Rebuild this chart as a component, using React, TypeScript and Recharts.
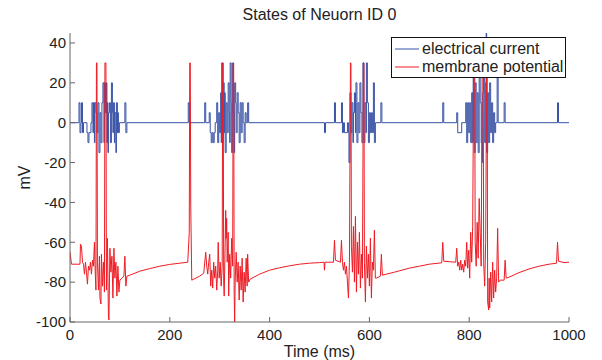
import { LineChart, Line, XAxis, YAxis, Legend } from "recharts";

const FONT = "'Liberation Sans', Arial, Helvetica, sans-serif";
const BLUE = "#3852a6";
const RED = "#ee1c24";

const TITLE = "States of Neuorn ID 0";
const X_TICKS = [0, 200, 400, 600, 800, 1000];
const Y_TICKS = [-100, -80, -60, -40, -20, 0, 20, 40];

// electrical current: [time ms, value] — value holds until the next time
const currentSteps: [number, number][] = [
  [0, 0], [18, 10], [20, -5], [22, 0], [23, 10], [25, -5], [27, 0],
  [34, -5], [36, -10], [38, -5], [42, 0], [44, 10], [46, -5], [47, 10], [49, -10],
  [50, 10], [52, 5], [54, -5], [56, 10], [58, -15], [60, 5], [62, -10], [64, 10],
  [66, 20], [68, -10], [69, 20], [71, 5], [73, 20], [74, -10], [75, 10], [76, -15],
  [77, 5], [79, 10], [81, -10], [83, 20], [85, 5], [86, -5], [87, 10], [89, -10],
  [90, 5], [92, -15], [93, 10], [95, -5], [96, 5], [97, -5], [99, 0],
  [110, 10], [112, -5], [114, 0],
  [237, 10], [239, 0],
  [270, 10], [272, 0], [279, 5], [281, -5], [283, -10], [285, -5], [287, -10],
  [289, -5], [291, 0], [294, 10], [296, -10], [298, 5], [300, -5], [302, 15],
  [303, -10], [304, 30], [306, -10], [307, 20], [309, -5], [310, 15], [311, -15],
  [313, 10], [315, -5], [317, 20], [319, 5], [320, -10], [321, 30], [323, 10],
  [324, -15], [326, 30], [327, 5], [329, -15], [330, 20], [332, 10], [333, -5],
  [335, 15], [337, 5], [339, -10], [341, 10], [343, -5], [345, 10], [347, 0],
  [349, -10], [351, 5], [353, 0], [356, 10], [358, 0],
  [510, -5], [512, 0], [530, 10], [532, 0], [544, 10], [546, -5], [548, 0],
  [550, -5], [556, 0], [558, -5], [559, -20], [561, 15], [563, -5], [565, 10],
  [567, -10], [568, 5], [570, 15], [572, -5], [573, 20], [575, -10], [577, 10],
  [579, -5], [581, 20], [583, 5], [585, -10], [587, 30], [589, -10], [591, 10],
  [593, -5], [594, 30], [596, 10], [598, -10], [600, 5], [602, -5], [604, 5],
  [606, -5], [608, 20], [610, -10], [612, 0], [623, 10], [625, 0],
  [747, 10], [749, 0], [775, 5], [777, -5], [785, 0], [793, 10], [795, -10],
  [797, 10], [799, -5], [801, 10], [803, -10], [805, 15], [807, -10], [808, 25],
  [810, -15], [812, 20], [814, -10], [816, 15], [818, -15], [820, 25], [822, 10],
  [824, -10], [826, -20], [827, 15], [829, 30], [831, -10], [833, 20], [834, 50],
  [835, -15], [837, 15], [839, -10], [841, 20], [843, -5], [845, 10], [847, -10],
  [849, 5], [851, -5], [853, 0], [856, 25], [858, 0], [870, 10], [872, 0],
  [977, 10], [979, 0], [1000, 0],
];

// membrane potential: [time ms, mV]
const potentialPoints: [number, number][] = [
  [0, -65], [3, -71], [20, -71], [21, -61], [23, -62], [25, -70], [27, -71],
  [29, -76], [31, -70], [33, -75], [35, -81], [37, -72], [39, -74], [41, -70],
  [43, -76], [45, -69], [47, -72], [49, -60], [50, -71], [52, -84], [53, 30],
  [54, 30], [55, -70], [57, -84], [59, -67], [60, -88], [62, -91], [63, -66],
  [65, -82], [67, -70], [69, -85], [70, 30], [72, 30], [73, -84], [75, -58],
  [77, -97], [78, -99], [80, -63], [82, -75], [84, -67], [86, -88], [88, -63],
  [90, -78], [92, -70], [94, -87], [96, -72], [98, -85], [100, -79], [104, -78],
  [108, -77], [110, -67], [112, -82], [114, -77], [120, -76.5], [140, -74.5],
  [160, -73.2], [180, -72], [200, -71.1], [220, -70.5], [236, -70],
  [239, -55], [240, 30], [241, 30], [242, -42], [244, -79], [260, -77],
  [268, -75.5], [272, -65], [274, -72], [276, -76], [278, -70], [280, -66],
  [282, -82], [284, -74], [286, -83], [288, -70], [290, -78], [292, -72],
  [294, -84], [296, -74], [297, -60], [299, -78], [301, -70], [303, -82],
  [305, -72], [306, 30], [307, 30], [308, -80], [309, -87], [311, -60],
  [312, -44], [313, -58], [314, -48], [315, -70], [317, -55], [318, -87],
  [320, -66], [322, -78], [324, -58], [326, -72], [327, 30], [328, 30],
  [329, -85], [330, -100], [331, -80], [333, -65], [335, -80], [337, -70],
  [339, -89], [341, -72], [343, -84], [345, -68], [347, -90], [349, -75],
  [351, -85], [353, -68], [355, -82], [356, -66], [358, -80], [361, -78.5],
  [380, -76], [400, -74], [420, -72.8], [440, -71.8], [460, -71], [480, -70.5],
  [500, -70.2], [509, -70], [510, -74], [511, -70], [528, -70], [530, -59],
  [532, -69], [542, -70], [544, -59], [546, -70], [548, -74], [550, -70],
  [552, -76], [554, -72], [556, -80], [558, -88], [560, -70], [562, 30],
  [563, 30], [564, -62], [566, -75], [568, -52], [570, -80], [572, -47],
  [574, -85], [576, -60], [578, -76], [580, -55], [582, -83], [584, -66],
  [586, -78], [588, 30], [589, 30], [590, -70], [592, -90], [594, -62],
  [596, -78], [598, -66], [600, -82], [602, -58], [604, -88], [606, -70],
  [608, -74], [610, -54], [612, -78], [614, -78], [622, -77], [624, -66],
  [626, -76.5], [650, -75], [680, -73], [700, -72], [720, -71], [745, -70.3],
  [747, -60], [749, -69.5], [773, -70], [775, -63], [777, -72], [779, -70],
  [781, -74], [783, -69], [785, -74], [787, -71], [789, -75], [791, -69],
  [793, -72], [795, -60], [797, -73], [799, -64], [801, -78], [803, -55],
  [805, -70], [807, -52], [809, 30], [811, 30], [812, -60], [814, -72],
  [816, -50], [818, -68], [820, -38], [822, -55], [824, -72], [826, 30],
  [828, 30], [829, -70], [831, -82], [833, -60], [835, 30], [836, 30],
  [837, -90], [839, -94], [840, -78], [841, -93], [843, -75], [845, -90],
  [847, -70], [849, -88], [851, -74], [853, -85], [855, -78], [857, -53],
  [859, -80], [862, -79], [870, -79], [872, -69], [874, -78], [880, -77.5],
  [900, -75.2], [920, -73.4], [940, -72], [960, -71], [975, -70.5], [977, -60],
  [979, -69.5], [990, -70.2], [1000, -70],
];

const currentData = currentSteps.map(([t, v]) => ({ t, v }));
const potentialData = potentialPoints.map(([t, v]) => ({ t, v }));

const tickStyle = { fill: "#222", fontSize: 15, fontFamily: FONT };

function LegendBox({ payload }: any) {
  return (
    <div
      style={{
        boxSizing: "border-box",
        width: 175,
        height: 41,
        border: "1px solid #111",
        background: "#fff",
        padding: "2px 0 0 3px",
        fontFamily: FONT,
        fontSize: 16,
        color: "#222",
      }}
    >
      {(payload || []).map((p: any) => (
        <div key={p.value} style={{ display: "flex", alignItems: "center", height: 18 }}>
          <svg width={24} height={4} style={{ marginRight: 3 }}>
            <line x1={0} y1={2} x2={24} y2={2} stroke={p.color} strokeWidth={1} />
          </svg>
          <span style={{ lineHeight: "18px" }}>{p.value}</span>
        </div>
      ))}
    </div>
  );
}

export default function App() {
  return (
    <div style={{ position: "absolute", left: 0, top: 0, width: 602, height: 360, background: "#fff" }}>
      <div
        style={{
          position: "absolute",
          top: 6,
          left: 70,
          width: 499,
          textAlign: "center",
          fontFamily: FONT,
          fontSize: 16,
          color: "#222",
        }}
      >
        {TITLE}
      </div>
      <LineChart width={602} height={360} margin={{ top: 33, right: 33, bottom: 0, left: 0 }}>
        <XAxis
          type="number"
          dataKey="t"
          domain={[0, 1000]}
          ticks={X_TICKS}
          height={38}
          stroke="#666"
          tickSize={-5}
          tickMargin={12}
          tick={tickStyle}
          allowDataOverflow
          label={{ value: "Time (ms)", position: "insideBottom", offset: 3, fill: "#222", fontSize: 16, fontFamily: FONT }}
        />
        <YAxis
          type="number"
          dataKey="v"
          domain={[-100, 45]}
          ticks={Y_TICKS}
          width={70}
          stroke="#666"
          tickSize={-5}
          tickMargin={9}
          tick={tickStyle}
          allowDataOverflow
          label={{
            value: "mV",
            angle: -90,
            position: "insideLeft",
            offset: 24,
            fill: "#222",
            fontSize: 16,
            fontFamily: FONT,
            style: { textAnchor: "middle" },
          }}
        />
        <Legend
          layout="vertical"
          align="center"
          verticalAlign="middle"
          content={<LegendBox />}
          wrapperStyle={{ left: 391, top: 37, width: 175, height: 41 }}
        />
        <Line
          data={currentData}
          dataKey="v"
          name="electrical current"
          type="stepAfter"
          stroke={BLUE}
          strokeWidth={1}
          dot={false}
          activeDot={false}
          isAnimationActive={false}
        />
        <Line
          data={potentialData}
          dataKey="v"
          name="membrane potential"
          type="linear"
          stroke={RED}
          strokeWidth={1}
          dot={false}
          activeDot={false}
          isAnimationActive={false}
        />
      </LineChart>
    </div>
  );
}
